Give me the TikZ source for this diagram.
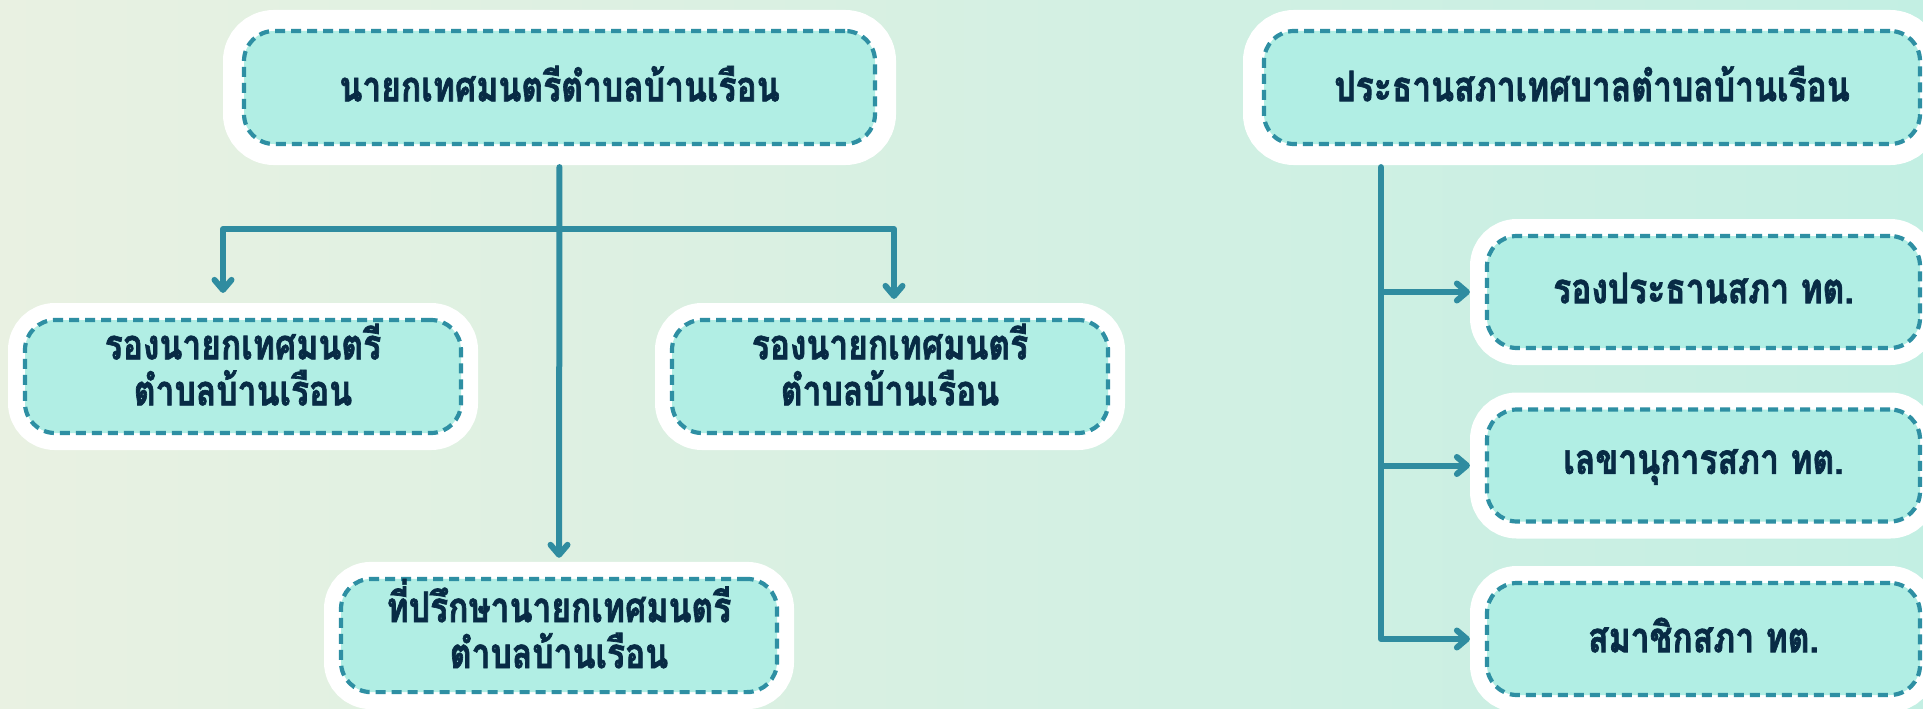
\documentclass[tikz,border=0pt]{standalone}
\usepackage{fontspec}
\usepackage{xcolor}
\usepackage{tikz}
\usetikzlibrary{shapes,arrows.meta}
\newfontfamily\thaifont[Script=Thai, FakeStretch=0.8, BoldFeatures={FakeBold=1.6}]{Loma}

\definecolor{bgleft}{HTML}{E9F1E2}
\definecolor{bgright}{HTML}{C3EFE3}
\definecolor{boxfill}{HTML}{B1EEE4}
\definecolor{dashteal}{HTML}{2E8FA3}
\definecolor{lineteal}{HTML}{2F8CA0}
\definecolor{navy}{HTML}{082B45}

\tikzset{
  orgbox/.style={draw=dashteal, fill=boxfill, line width=4.2pt,
    dash pattern=on 10pt off 6pt, rounded corners=30pt,
    preaction={draw=white, fill=white, solid, line width=34pt},
    text=navy, font=\thaifont\bfseries\fontsize{42}{46}\selectfont,
    align=center, inner sep=0pt, text depth=8pt},
  wide/.style={orgbox, minimum width=631pt, minimum height=113pt,
    preaction={draw=white, fill=white, solid, line width=42pt}},
  half/.style={orgbox, minimum width=436pt, minimum height=113pt, text depth=24pt},
  side/.style={orgbox, minimum width=433pt, minimum height=112pt},
  conn/.style={draw=lineteal, line width=6pt, line join=round, line cap=round},
  tip/.style={-{Straight Barb[length=10pt,width=17pt,round]}}
}

\begin{document}
\begin{tikzpicture}[x=1pt,y=1pt,yscale=-1,xscale=1]
        \useasboundingbox (0,0) rectangle (1923,709);
        \shade[left color=bgleft, right color=bgright] (0,0) rectangle (1923,709);

        % mayor side
        \node[wide] (mayor) at (559.5,87.5) {นายกเทศมนตรีตำบลบ้านเรือน};
        \node[half] (deputyA) at (243,376.5) {รองนายกเทศมนตรี\\ตำบลบ้านเรือน};
        \node[half] (deputyB) at (890,376.5) {รองนายกเทศมนตรี\\ตำบลบ้านเรือน};
        \node[half] (advisor) at (559,635.5) {ที่ปรึกษานายกเทศมนตรี\\ตำบลบ้านเรือน};

        % council side
        \node[wide, minimum width=656pt] (chair) at (1592,87.5) {ประธานสภาเทศบาลตำบลบ้านเรือน};
        \node[side] (vicechair) at (1703.5,292) {รองประธานสภา ทต.};
        \node[side] (secretary) at (1703.5,465.5) {เลขานุการสภา ทต.};
        \node[side] (member) at (1703.5,639) {สมาชิกสภา ทต.};

        \coordinate (barL) at (223,229);
        \coordinate (barR) at (894,229);
        \coordinate (trunk) at (1381,0);

        \draw[conn, tip, shorten <=21pt, shorten >=19pt] (mayor.south) -- (advisor.north);
        \draw[conn, {Straight Barb[length=10pt,width=17pt,round]}-{Straight Barb[length=10pt,width=17pt,round]},
              shorten <=25pt, shorten >=19pt]
              (barL |- deputyA.north) -- (barL) -- (barR) -- (barR |- deputyB.north);

        \draw[conn, tip, shorten <=21pt, shorten >=15pt]
              (chair.south -| trunk) -- (trunk |- member.west) -- (member.west);
        \draw[conn, tip, shorten >=15pt] (trunk |- vicechair.west) -- (vicechair.west);
        \draw[conn, tip, shorten >=15pt] (trunk |- secretary.west) -- (secretary.west);
    \end{tikzpicture}
\end{document}
